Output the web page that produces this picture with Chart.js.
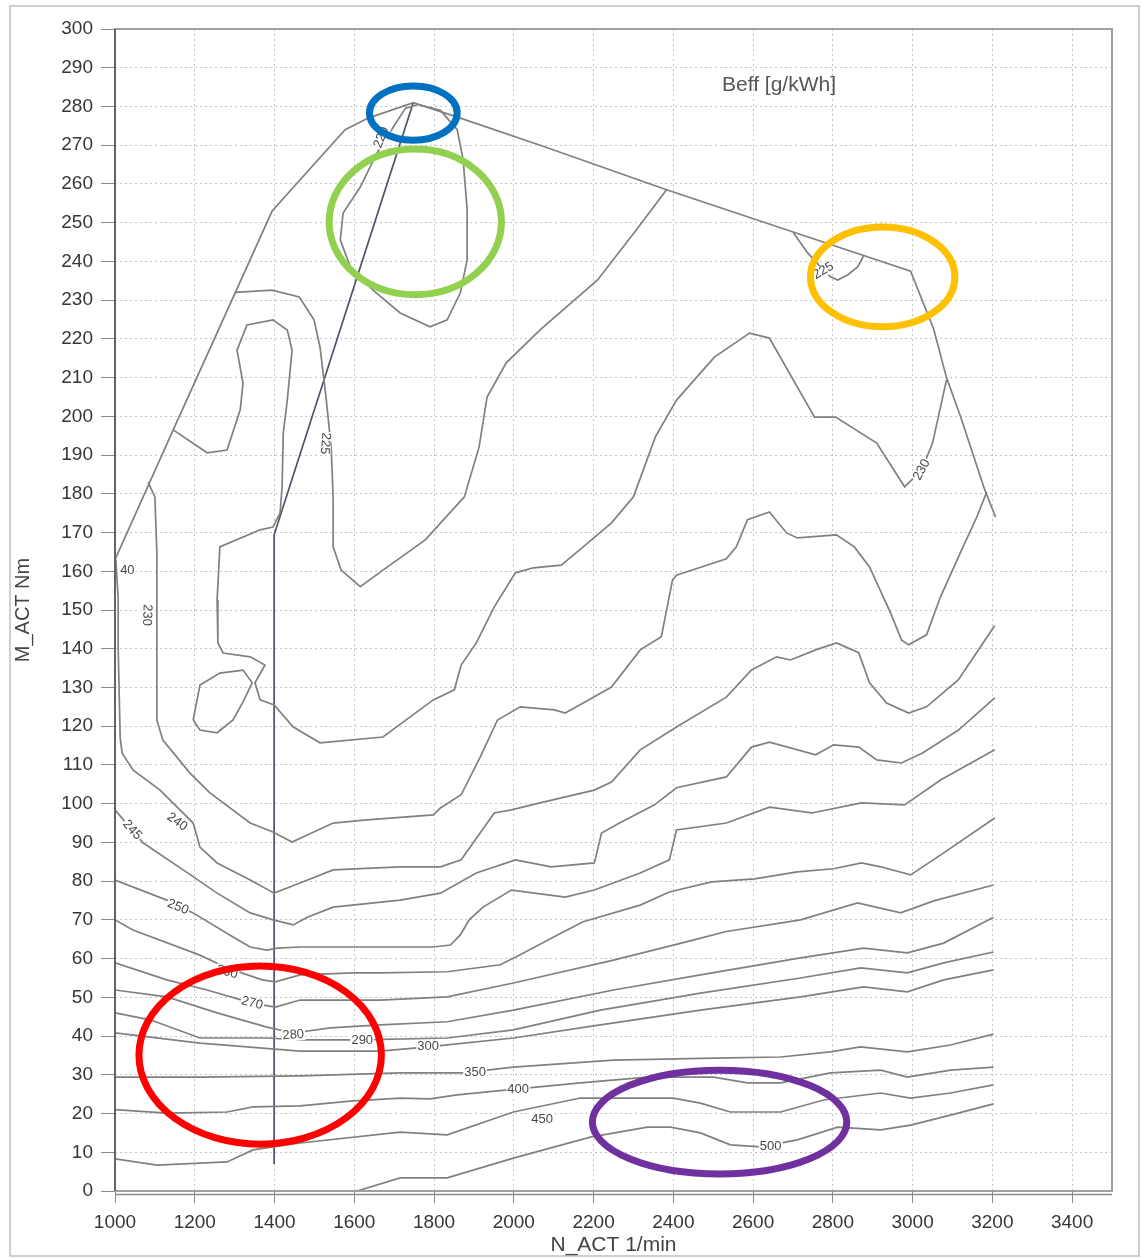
<!DOCTYPE html>
<html>
<head>
<meta charset="utf-8">
<script src="https://cdn.jsdelivr.net/npm/chart.js@4.4.0/dist/chart.umd.min.js"></script>
<style>
  html, body { margin: 0; padding: 0; background: #fff; }
  #wrap { position: relative; width: 1142px; height: 1258px; }
</style>
</head>
<body>
<div id="wrap"><canvas id="map" width="1142" height="1258"></canvas></div>
<script>
// ---- axis ticks ----
const speedTicks = [1000, 1200, 1400, 1600, 1800, 2000, 2200, 2400, 2600, 2800, 3000, 3200, 3400];
const torqueTicks = [0, 10, 20, 30, 40, 50, 60, 70, 80, 90, 100, 110, 120, 130, 140, 150, 160, 170, 180, 190, 200,
                     210, 220, 230, 240, 250, 260, 270, 280, 290, 300];

// ---- full load curve and iso-consumption lines, [rpm, Nm] ----
const curveFullLoad = [[1000,163],[1146,196.5],[1394,253],[1577,274],[1635,277],[1748,281],[1866,277],[2077,269.6],
  [2383,258.5],[2706,247.4],[2995,237.5],[3053,222.5],[3085,210],[3120,200],[3181,181],[3208,174]];

const curveMin = [[1728,279.5],[1698,274.7],[1657,268],[1615,259.2],[1572,252.5],[1565,245.5],[1590,238.6],[1647,232.6],
  [1715,226.7],[1790,223.1],[1833,224.9],[1866,231.9],[1883,240.4],[1883,253.3],[1873,266.2],[1858,274],[1816,279],
  [1760,280.5],[1728,279.5]];

const curve225 = [[1301,232],[1394,232.6],[1462,230.8],[1499,224.9],[1514,217.9],[1529,205],[1542,192.1],[1547,179.2],
  [1547,166.3],[1567,160.3],[1615,156],[1672,160.3],[1778,168.1],[1876,179.2],[1913,192.1],[1933,205],[1981,213.8],
  [2066,222.3],[2210,235.2],[2307,248.1],[2383,258.5]];

const curve230a = [[1146,196.5],[1231,190.6],[1281,191.3],[1314,201.7],[1321,208.6],[1306,217.1],[1331,223.6],[1396,224.9],
  [1432,222.3],[1444,217.1],[1432,204.2],[1422,195.7],[1419,181.8],[1414,175.1],[1396,171.4],[1364,170.7],[1263,166.3],
  [1256,152.6],[1258,141.5],[1271,138.9],[1339,137.9],[1376,135.8],[1351,131.2],[1364,126.8],[1399,125.5],[1447,119.8],
  [1514,115.7],[1672,117.2],[1798,126.8],[1851,129.4],[1868,135.8],[1906,141.5],[1951,150.8],[2004,159.6],[2049,160.9],
  [2119,161.6],[2174,166.3],[2245,172.5],[2300,179.2],[2355,194.7],[2408,204.2],[2503,215.3],[2591,221.5],[2641,220.2],
  [2754,199.8],[2807,199.8],[2910,193.1],[2980,181.8],[3023,186.2],[3050,193.1],[3085,209.4]];

const curve230b = [[1083,183],[1100,179.2],[1105,164.7],[1105,121.6],[1120,116.4],[1188,107.9],[1238,102.8],[1339,95],
  [1396,92.7],[1444,90.1],[1547,95],[1632,95.8],[1798,97.1],[1816,98.9],[1868,102.3],[1916,112.1],[1959,121.6],
  [2016,125],[2102,124.2],[2129,123.4],[2174,126],[2245,130.1],[2317,139.7],[2370,143.1],[2398,157.8],[2408,159],
  [2533,163.2],[2558,166.3],[2586,173.3],[2641,175.3],[2684,169.9],[2711,168.6],[2809,169.4],[2854,166.3],[2892,161.1],
  [2945,149.2],[2972,142.3],[2990,141],[3035,143.6],[3070,153.4],[3123,165.5],[3161,174],[3186,180.5]];

const islandLeft = [[1196,121.6],[1213,130.6],[1263,133.7],[1321,134.5],[1344,131.2],[1321,126.3],[1296,121.6],
  [1256,118.3],[1213,119],[1196,121.6]];

const islandRight = [[2701,247.4],[2737,242.2],[2769,238.6],[2794,236],[2812,235.2],[2837,236.5],[2862,238.6],[2877,241.4]];

const curve240 = [[1002,163],[1008,153],[1008,140],[1013,117],[1018,113],[1045,108.7],[1113,103.5],[1196,95],[1213,88.8],
  [1256,84.7],[1339,80.3],[1399,76.9],[1464,79.5],[1547,82.9],[1715,83.7],[1816,83.7],[1868,85.5],[1951,97.6],[1994,98.4],
  [2066,100.2],[2119,101.5],[2202,103.5],[2245,105.6],[2317,113.9],[2408,119.8],[2533,127.5],[2596,134.5],[2659,137.9],
  [2694,137.1],[2757,139.7],[2809,141.5],[2865,139],[2892,131.2],[2935,126],[2990,123.4],[3035,125],[3115,132],[3206,146]];

const curve245 = [[1000,98.4],[1070,89.9],[1171,82.9],[1256,76.9],[1339,71.8],[1396,70],[1447,68.7],[1482,70.7],
  [1547,73.3],[1715,75.1],[1816,76.9],[1906,82.1],[2004,85.5],[2094,83.7],[2202,84.7],[2220,92.4],[2265,95],[2353,99.7],
  [2408,104.1],[2533,106.9],[2596,114.6],[2641,115.9],[2757,112.6],[2802,115.2],[2865,114.6],[2910,111.3],[2972,110.5],
  [3025,113.1],[3115,119],[3206,127.3]];

const curve250 = [[1000,80.3],[1130,75.1],[1196,71.8],[1296,65.6],[1339,63],[1381,62.2],[1407,62.7],[1464,63],[1632,63],
  [1798,63],[1841,63.5],[1866,66.1],[1888,70],[1923,73.3],[1994,77.7],[2129,75.9],[2202,77.7],[2317,82.1],[2390,85.5],
  [2408,93.2],[2533,95],[2641,99.1],[2747,97.6],[2872,100.2],[2980,99.7],[3070,106.1],[3206,113.9]];

const curve260 = [[1000,70],[1045,67.4],[1213,60.9],[1281,57.6],[1369,54.5],[1402,54],[1464,55.8],[1600,56.3],[1665,56.3],
  [1833,56.6],[1966,58.4],[2016,61],[2119,66.6],[2174,69.5],[2317,73.8],[2390,77.2],[2496,79.8],[2604,80.6],[2711,82.4],
  [2802,83.2],[2872,84.7],[2920,83.7],[2995,81.6],[3078,87.3],[3206,96.3]];

const curve270 = [[1000,58.9],[1130,54.5],[1231,51.9],[1344,48.5],[1402,47.5],[1464,49.3],[1665,49.3],[1833,50.1],
  [1999,53.7],[2250,59.6],[2420,64],[2533,67],[2719,70],[2862,74.4],[2970,71.8],[3053,74.9],[3203,79]];

const curve280 = [[1000,51.9],[1130,50.1],[1256,46],[1381,42.3],[1447,40.8],[1540,42.1],[1665,42.9],[1833,43.7],
  [1999,46.7],[2250,51.9],[2468,55.8],[2719,60.2],[2877,62.7],[2987,61.5],[3078,64],[3203,70.7]];

const curve290 = [[1000,46],[1088,44.2],[1213,39.5],[1381,39.5],[1464,39],[1615,39],[1833,39.5],[1999,41.6],[2217,46.7],
  [2468,51.1],[2719,55],[2870,57.6],[2987,56.3],[3078,58.9],[3203,61.7]];

const curve300 = [[1000,40.8],[1213,38.2],[1464,36.1],[1665,36.1],[1785,37.2],[1999,39.5],[2217,42.9],[2468,46.7],
  [2719,50.1],[2877,52.7],[2987,51.4],[3078,54.5],[3203,57.1]];

const curve350 = [[1000,29.4],[1213,29.4],[1464,29.7],[1715,30.5],[1873,30.5],[1999,32],[2250,33.8],[2501,34.3],
  [2669,34.6],[2794,35.9],[2869,37.2],[2987,35.9],[3095,37.7],[3203,40.5]];

const curve400 = [[1000,21],[1130,20.1],[1281,20.4],[1346,21.7],[1464,22],[1590,23.2],[1715,24],[1790,23.8],[1858,24.8],
  [1984,26.1],[2167,27.9],[2335,29.4],[2501,29.4],[2586,27.9],[2669,27.9],[2794,30.5],[2920,31.2],[2987,29.4],
  [3095,31.2],[3203,32]];

const curve450 = [[1000,8.3],[1105,6.7],[1281,7.5],[1346,10.6],[1464,12.4],[1715,15.2],[1833,14.5],[1999,20.4],
  [2167,24],[2400,24],[2468,22.7],[2543,20.4],[2669,20.4],[2777,23.5],[2920,25.3],[2995,24],[3095,25.3],[3203,27.4]];

const curve500 = [[1607,0],[1715,3.4],[1833,3.4],[1999,8.5],[2192,13.9],[2335,16.5],[2393,16.5],[2468,15],[2543,11.9],
  [2619,11.4],[2711,13.2],[2812,16.5],[2920,15.8],[2995,17],[3095,19.6],[3203,22.5]];

// measurement trace along the 1400 1/min sweep
const traceLine = [[1748,281],[1399,169.4],[1399,7]];

// contour value labels: text, rpm, Nm, rotation in degrees
const contourLabels = [
  ['225', 1527, 193, 95], ['230', 1080, 148.7, 92], ['40', 1031, 160.3, 0], ['230', 3023, 186.2, -62],
  ['240', 1156, 95.3, 35], ['245', 1043, 93.2, 48], ['250', 1158, 73.3, 22], ['260', 1281, 56.5, 16],
  ['270', 1344, 48.5, 14], ['280', 1447, 40.3, -4], ['290', 1620, 39, 0], ['300', 1785, 37.4, 0],
  ['350', 1903, 30.5, 0], ['400', 2011, 26.1, 0], ['450', 2071, 18.6, 0], ['500', 2644, 11.6, 0],
  ['220', 1668, 272, -68], ['225', 2776, 237.6, -30]
];

// highlighted zones: centre rpm, centre Nm, half width rpm, half height Nm, colour
const highlights = [
  [1748, 278.3, 110, 7.0, '#0070C0'],
  [1753, 250.2, 216, 18.8, '#92D050'],
  [2925, 236.0, 181, 12.9, '#FFC000'],
  [1364, 35.1, 304, 23.0, '#FF0000'],
  [2516, 17.8, 319, 13.4, '#7030A0']
];

const toPts = arr => arr.map(([x, y]) => ({ x, y }));

const isoSet = (name, arr) => ({
  label: name, data: toPts(arr), showLine: true, pointRadius: 0,
  borderColor: '#808080', borderWidth: 1.7, tension: 0, fill: false
});

const datasets = [
  isoSet('full load', curveFullLoad),
  isoSet('min', curveMin),
  isoSet('225', curve225),
  isoSet('230 inner', curve230a),
  isoSet('230 outer', curve230b),
  isoSet('island left', islandLeft),
  isoSet('island right', islandRight),
  isoSet('240', curve240),
  isoSet('245', curve245),
  isoSet('250', curve250),
  isoSet('260', curve260),
  isoSet('270', curve270),
  isoSet('280', curve280),
  isoSet('290', curve290),
  isoSet('300', curve300),
  isoSet('350', curve350),
  isoSet('400', curve400),
  isoSet('450', curve450),
  isoSet('500', curve500),
  { label: 'trace', data: toPts(traceLine), showLine: true, pointRadius: 0,
    borderColor: '#4d5266', borderWidth: 1.7, tension: 0 }
];

const FONT = "'Liberation Sans', Arial, sans-serif";

const mapDecor = {
  id: 'mapDecor',
  beforeDraw(chart) {
    const { ctx, width, height } = chart;
    ctx.save();
    ctx.fillStyle = '#fff';
    ctx.fillRect(0, 0, width, height);
    ctx.strokeStyle = '#cfcfcf';
    ctx.lineWidth = 2;
    ctx.strokeRect(10, 6, width - 13, height - 8);
    ctx.restore();
  },
  afterDatasetsDraw(chart) {
    const { ctx, chartArea: a, scales: { x, y } } = chart;
    ctx.save();
    // plot frame
    ctx.strokeStyle = '#a0a0a0';
    ctx.lineWidth = 2;
    ctx.strokeRect(a.left, a.top, a.right - a.left, a.bottom - a.top);
    ctx.strokeStyle = '#505050';
    ctx.lineWidth = 1.5;
    ctx.beginPath(); ctx.moveTo(a.left, a.top); ctx.lineTo(a.left, a.bottom); ctx.stroke();
    ctx.strokeStyle = '#8a8a8a';
    ctx.beginPath(); ctx.moveTo(a.left, a.bottom + 3.5); ctx.lineTo(a.right, a.bottom + 3.5); ctx.stroke();

    // map title
    ctx.fillStyle = '#555';
    ctx.font = '21px ' + FONT;
    ctx.textAlign = 'center';
    ctx.textBaseline = 'middle';
    ctx.fillText('Beff [g/kWh]', x.getPixelForValue(2665), y.getPixelForValue(285.5));

    // contour labels
    ctx.font = '13px ' + FONT;
    contourLabels.forEach(([t, rx, ry, ang]) => {
      const px = x.getPixelForValue(rx), py = y.getPixelForValue(ry);
      ctx.save();
      ctx.translate(px, py);
      ctx.rotate(ang * Math.PI / 180);
      const w = ctx.measureText(t).width;
      ctx.fillStyle = '#fff';
      ctx.fillRect(-w / 2 - 1, -6, w + 2, 12);
      ctx.fillStyle = '#484848';
      ctx.fillText(t, 0, 0);
      ctx.restore();
    });

    // highlighted zones
    highlights.forEach(([cx, cy, hx, hy, col]) => {
      const px = x.getPixelForValue(cx), py = y.getPixelForValue(cy);
      const rx = Math.abs(x.getPixelForValue(cx + hx) - px);
      const ry = Math.abs(y.getPixelForValue(cy + hy) - py);
      ctx.beginPath();
      ctx.ellipse(px, py, rx, ry, 0, 0, Math.PI * 2);
      ctx.strokeStyle = col;
      ctx.lineWidth = 7;
      ctx.stroke();
    });
    ctx.restore();
  }
};

new Chart(document.getElementById('map'), {
  type: 'scatter',
  data: { datasets },
  plugins: [mapDecor],
  options: {
    responsive: false,
    animation: false,
    devicePixelRatio: 1,
    layout: { padding: { top: 29, right: 30, left: 0, bottom: 0 } },
    plugins: { legend: { display: false }, tooltip: { enabled: false } },
    scales: {
      x: {
        type: 'linear', min: 1000, max: 3500,
        afterBuildTicks: s => { s.ticks = speedTicks.map(v => ({ value: v })); },
        afterFit: s => { s.height = 67; },
        border: { display: false, dash: [2, 3] },
        grid: { color: '#c4c4c4', lineWidth: 1, tickColor: '#888', tickLength: 12, tickBorderDash: [] },
        ticks: { autoSkip: false, maxRotation: 0, padding: 8, color: '#363636',
                 font: { family: FONT, size: 19 }, callback: v => String(v) },
        title: { display: true, text: 'N_ACT 1/min', color: '#444',
                 font: { family: FONT, size: 21 }, padding: { top: 0, bottom: 0 } }
      },
      y: {
        type: 'linear', min: 0, max: 300,
        afterBuildTicks: s => { s.ticks = torqueTicks.map(v => ({ value: v })); },
        afterFit: s => { s.width = 115; },
        border: { display: false, dash: [2, 3] },
        grid: { color: '#c4c4c4', lineWidth: 1, tickColor: '#888', tickLength: 14, tickBorderDash: [] },
        ticks: { autoSkip: false, padding: 8, color: '#363636',
                 font: { family: FONT, size: 19 }, callback: v => String(v) },
        title: { display: true, text: 'M_ACT Nm', color: '#444',
                 font: { family: FONT, size: 20 }, padding: { top: 11, bottom: 0 } }
      }
    }
  }
});
</script>
</body>
</html>
